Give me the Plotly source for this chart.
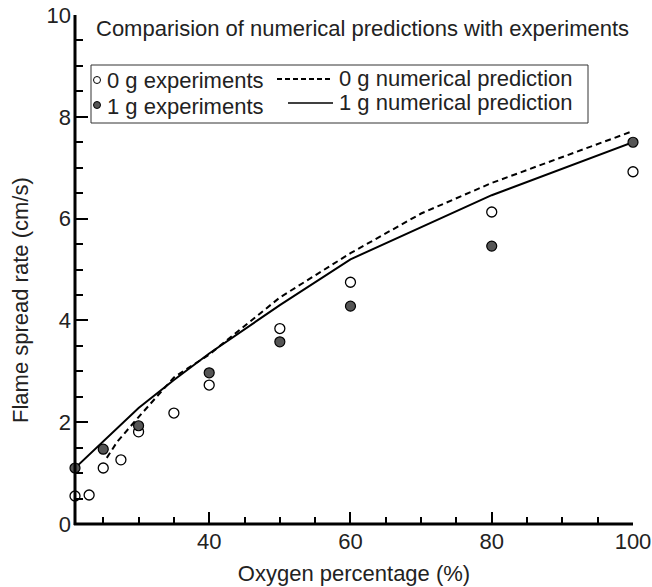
import plotly.graph_objects as go

# ---- data ----
oxy_0g_exp = [21, 23, 25, 27.5, 30, 35, 40, 50, 60, 80, 100]
rate_0g_exp = [0.55, 0.57, 1.10, 1.26, 1.81, 2.18, 2.73, 3.84, 4.75, 6.13, 6.92]

oxy_1g_exp = [21, 25, 30, 40, 50, 60, 80, 100]
rate_1g_exp = [1.10, 1.47, 1.93, 2.97, 3.58, 4.28, 5.46, 7.50]

oxy_0g_num = [25.5, 27, 30, 35, 40, 50, 60, 70, 80, 100]
rate_0g_num = [1.30, 1.62, 2.10, 2.88, 3.33, 4.45, 5.32, 6.10, 6.70, 7.72]

oxy_1g_num = [21, 25, 30, 35, 40, 50, 60, 80, 100]
rate_1g_num = [1.10, 1.62, 2.28, 2.83, 3.35, 4.30, 5.20, 6.46, 7.50]

title_text = "Comparision of numerical predictions with experiments"
legend_labels = ["0 g experiments", "1 g experiments",
                 "0 g numerical prediction", "1 g numerical prediction"]
x_title = "Oxygen percentage (%)"
y_title = "Flame spread rate (cm/s)"

FONT = "Liberation Sans, Arial, Helvetica, sans-serif"
W, H = 652, 587
ML, MR, MT, MB = 75, 19, 15, 63
PW, PH = W - ML - MR, H - MT - MB

def px(x):
    return (x - ML) / PW

def py(y):
    return (H - MB - y) / PH

fig = go.Figure()

fig.add_trace(go.Scatter(x=oxy_0g_num, y=rate_0g_num, mode="lines",
                         line=dict(color="black", width=2, dash="6px,4px"),
                         showlegend=False, cliponaxis=False))
fig.add_trace(go.Scatter(x=oxy_1g_num, y=rate_1g_num, mode="lines",
                         line=dict(color="black", width=2),
                         showlegend=False, cliponaxis=False))
fig.add_trace(go.Scatter(x=oxy_0g_exp, y=rate_0g_exp, mode="markers",
                         marker=dict(symbol="circle", size=10, color="white",
                                     line=dict(color="black", width=1.3)),
                         showlegend=False, cliponaxis=False))
fig.add_trace(go.Scatter(x=oxy_1g_exp, y=rate_1g_exp, mode="markers",
                         marker=dict(symbol="circle", size=10, color="#555555",
                                     line=dict(color="black", width=1.2)),
                         showlegend=False, cliponaxis=False))

shapes = []
annotations = []

# axis lines (left and bottom only)
shapes.append(dict(type="line", xref="paper", yref="paper", x0=0, x1=0, y0=-0.002, y1=1,
                   line=dict(color="black", width=3), layer="above"))
shapes.append(dict(type="line", xref="paper", yref="paper", x0=-0.002, x1=1, y0=0, y1=0,
                   line=dict(color="black", width=3), layer="above"))

# legend box
shapes.append(dict(type="rect", xref="paper", yref="paper",
                   x0=px(91), x1=px(588), y0=py(123), y1=py(65),
                   line=dict(color="#333333", width=1), fillcolor="white", layer="below"))
# legend symbols
r1, r2 = 80, 105
for yy, fill in [(r1, "white"), (r2, "#555555")]:
    shapes.append(dict(type="circle", xref="paper", yref="paper",
                       xsizemode="pixel", ysizemode="pixel",
                       xanchor=px(97), yanchor=py(yy),
                       x0=-3.5, x1=3.5, y0=-3.5, y1=3.5,
                       fillcolor=fill, line=dict(color="black", width=1)))
shapes.append(dict(type="line", xref="paper", yref="paper",
                   x0=px(277), x1=px(333), y0=py(r1 - 1), y1=py(r1 - 1),
                   line=dict(color="black", width=2, dash="5px,3px")))
shapes.append(dict(type="line", xref="paper", yref="paper",
                   x0=px(288), x1=px(333), y0=py(r2 - 2), y1=py(r2 - 2),
                   line=dict(color="black", width=1.5)))

fs = 22
TXT = "#222"
def ann(text, x, y, xa="left", angle=0, size=fs):
    annotations.append(dict(text=text, xref="paper", yref="paper", x=x, y=y,
                            xanchor=xa, yanchor="middle", showarrow=False,
                            textangle=angle,
                            font=dict(family=FONT, size=size, color=TXT)))

ann(title_text, px(94), py(28))
ann(legend_labels[0], px(105), py(r1))
ann(legend_labels[1], px(105), py(r2 + 1))
ann(legend_labels[2], px(337), py(r1 - 2))
ann(legend_labels[3], px(337), py(r2 - 3))
ann(y_title, px(20), py(300), xa="center", angle=-90)

fig.update_layout(
    width=W, height=H,
    margin=dict(l=ML, r=MR, t=MT, b=MB, pad=0, autoexpand=False),
    plot_bgcolor="white", paper_bgcolor="white",
    font=dict(family=FONT, size=fs, color=TXT),
    shapes=shapes, annotations=annotations,
    showlegend=False,
)
fig.update_xaxes(
    range=[21, 100], tick0=0, dtick=20, ticks="inside", ticklen=12, tickwidth=2,
    tickcolor="black", showline=False,
    showgrid=False, zeroline=False, ticklabelstandoff=2, automargin=False,
    tickfont=dict(family=FONT, size=fs, color=TXT),
    minor=dict(dtick=5, tick0=0, ticks="inside", ticklen=7, tickwidth=2, tickcolor="black", showgrid=False),
    title=dict(text=x_title, font=dict(family=FONT, size=fs, color=TXT), standoff=12),
)
fig.update_yaxes(
    range=[0, 10], tick0=0, dtick=2, ticks="inside", ticklen=13, tickwidth=2,
    tickcolor="black", showline=False,
    showgrid=False, zeroline=False, ticklabelstandoff=3, automargin=False,
    tickfont=dict(family=FONT, size=fs, color=TXT),
    minor=dict(dtick=0.5, tick0=0, ticks="inside", ticklen=8, tickwidth=2, tickcolor="black", showgrid=False),
)

fig.write_html("out.html")
